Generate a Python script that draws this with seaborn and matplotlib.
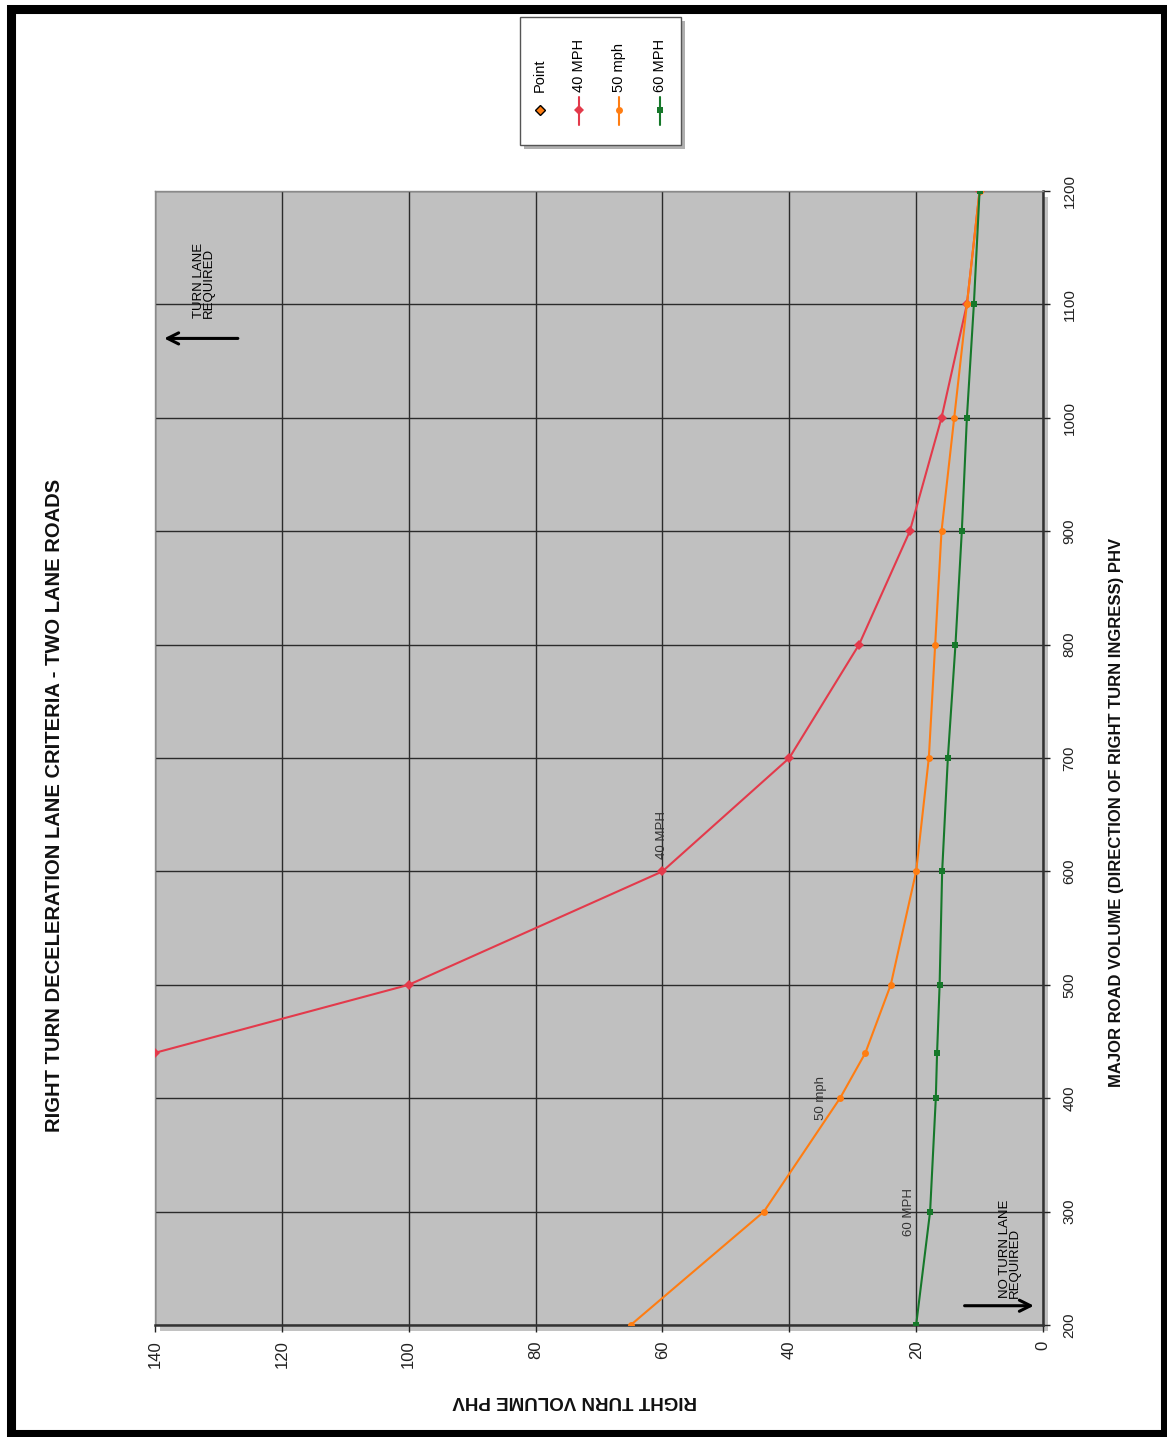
import matplotlib
matplotlib.use('Agg')
import matplotlib.pyplot as plt
import seaborn as sns
import pandas as pd
from matplotlib.patches import Rectangle
from matplotlib.lines import Line2D

major_road = [200, 300, 400, 440, 500, 600, 700, 800, 900, 1000, 1100, 1200]
major_road_40 = [440, 500, 600, 700, 800, 900, 1000, 1100, 1200]
turn_40 = [140, 100, 60, 40, 29, 21, 16, 12, 10]
turn_50 = [65, 44, 32, 28, 24, 20, 18, 17, 16, 14, 12, 10]
turn_60 = [20, 17.8, 16.9, 16.7, 16.3, 15.9, 15, 13.8, 12.8, 12, 10.9, 10]

series_names = ['40 MPH', '50 mph', '60 MPH']
series_colors = ['#e33a4b', '#ff7d12', '#16782a']
series_markers = ['D', 'o', 's']
legend_labels = ['Point', '40 MPH', '50 mph', '60 MPH']

turn_ticks = [0, 20, 40, 60, 80, 100, 120, 140]
major_ticks = [200, 300, 400, 500, 600, 700, 800, 900, 1000, 1100, 1200]

title = 'RIGHT TURN DECELERATION LANE CRITERIA - TWO LANE ROADS'
turn_label = 'RIGHT TURN VOLUME PHV'
major_label = 'MAJOR ROAD VOLUME (DIRECTION OF RIGHT TURN INGRESS) PHV'

sns.set_style('white')
plt.rcParams['font.family'] = ['Liberation Sans', 'DejaVu Sans']

W, H = 1167, 1437
fig = plt.figure(figsize=(W / 100, H / 100), dpi=100)
fig.patch.set_facecolor('white')


def fx(px):
    return px / W


def fy(py):
    return 1 - py / H


# outer black frame with a soft inner shade
fig.add_artist(Rectangle((fx(14), fy(1432)), fx(1149), (1432 - 12) / H,
                         transform=fig.transFigure, fill=False,
                         edgecolor='#c8c8c8', lw=3, zorder=-3))
fig.add_artist(Rectangle((fx(10.5), fy(1434)), fx(1154), (1434 - 8.5) / H,
                         transform=fig.transFigure, fill=False,
                         edgecolor='black', lw=6.5, zorder=5))

# plot area (chart is drawn turned on its side)
left, right, top, bottom = 155, 1043, 191, 1325
fig.add_artist(Rectangle((fx(left + 5), fy(bottom + 6)), fx(right - left), (bottom - top) / H,
                         transform=fig.transFigure, color='#9a9a9a', alpha=0.6, lw=0, zorder=-2))
ax = fig.add_axes([fx(left), fy(bottom), fx(right - left), (bottom - top) / H])
ax.set_facecolor('#c0c0c0')

series_turn = [turn_40, turn_50, turn_60]
series_major = [major_road_40, major_road, major_road]
for name, turn, major, color, marker in zip(series_names, series_turn, series_major,
                                             series_colors, series_markers):
    df = pd.DataFrame({'turn': turn, 'major': major})
    sns.lineplot(data=df, x='turn', y='major', sort=False, estimator=None,
                 color=color, marker=marker, markersize=5, markeredgewidth=0,
                 lw=1.5, ax=ax, zorder=3)

ax.set_xlim(140, 0)
ax.set_ylim(200, 1200)
ax.set_xticks(turn_ticks)
ax.set_yticks(major_ticks)
ax.set_xlabel('')
ax.set_ylabel('')
ax.yaxis.tick_right()
ax.grid(True, color='#2b2b2b', lw=1)
ax.set_axisbelow(True)
ax.tick_params(axis='x', direction='out', length=5, width=1, pad=6,
               labelrotation=90, labelsize=12, bottom=True, colors='#222222')
ax.tick_params(axis='y', direction='out', length=5, width=1, pad=9,
               labelrotation=90, labelsize=11, right=True, left=False, colors='#222222')
for lab in ax.get_yticklabels():
    lab.set_va('center')
    lab.set_ha('left')
for side in ['top', 'left']:
    ax.spines[side].set_color('#8a8a8a')
    ax.spines[side].set_linewidth(1)
for side in ['bottom', 'right']:
    ax.spines[side].set_color('#333333')
    ax.spines[side].set_linewidth(1.8)

# curve labels
ax.text(60, 632, '40 MPH', rotation=90, ha='center', va='center', fontsize=9.5, color='#333333')
ax.text(35, 400, '50 mph', rotation=90, ha='center', va='center', fontsize=9.5, color='#333333')
ax.text(21.2, 300, '60 MPH', rotation=90, ha='center', va='center', fontsize=9.5, color='#333333')

# region notes with arrows
ax.text(132.3, 1121, 'TURN LANE\nREQUIRED', rotation=90, ha='center', va='center',
        multialignment='left', linespacing=0.85, fontsize=9.5, color='black')
ax.annotate('', xy=(139, 1070), xytext=(126.5, 1070),
            arrowprops=dict(arrowstyle='->,head_length=0.8,head_width=0.4', lw=2.2, color='black'))
ax.text(5.2, 267, 'NO TURN LANE\nREQUIRED', rotation=90, ha='center', va='center',
        multialignment='left', linespacing=0.85, fontsize=9.5, color='black')
ax.annotate('', xy=(1.0, 217), xytext=(12.8, 217),
            arrowprops=dict(arrowstyle='->,head_length=0.8,head_width=0.4', lw=2.2, color='black'))

# titles
fig.text(fx(55), fy(805), title, rotation=90, ha='center', va='center',
         fontsize=14.5, fontweight='bold', color='#111111')
fig.text(fx(1117), fy(812), major_label, rotation=90, ha='center', va='center',
         fontsize=12, fontweight='bold', color='#111111')
fig.text(fx(575), fy(1400), turn_label, rotation=180, ha='center', va='center',
         fontsize=13.5, fontweight='bold', color='#111111')

# legend box, drawn by hand because the whole chart is turned
lx0, ly0, lx1, ly1 = 520, 17, 681, 145
fig.add_artist(Rectangle((fx(lx0 + 4), fy(ly1 + 4)), fx(lx1 - lx0), (ly1 - ly0) / H,
                         transform=fig.transFigure, color='#8f8f8f', alpha=0.7, lw=0, zorder=1))
fig.add_artist(Rectangle((fx(lx0), fy(ly1)), fx(lx1 - lx0), (ly1 - ly0) / H,
                         transform=fig.transFigure, facecolor='white',
                         edgecolor='#555555', lw=1, zorder=2))
legend_x = [540, 579, 619, 660]
legend_colors = ['#ff7d12'] + series_colors
legend_markers = ['D'] + series_markers
for i, (lab, xx, col, mk) in enumerate(zip(legend_labels, legend_x, legend_colors, legend_markers)):
    if i > 0:
        fig.add_artist(Line2D([fx(xx), fx(xx)], [fy(97), fy(125)], transform=fig.transFigure,
                              color=col, lw=1.5, zorder=3))
        fig.add_artist(Line2D([fx(xx)], [fy(110)], transform=fig.transFigure, color=col,
                              marker=mk, markersize=5, markeredgewidth=0, zorder=4))
    else:
        fig.add_artist(Line2D([fx(xx)], [fy(110)], transform=fig.transFigure, color=col,
                              marker=mk, markersize=5, markeredgecolor='black',
                              markeredgewidth=1, lw=0, zorder=4))
    fig.text(fx(xx), fy(92), lab, rotation=90, ha='center', va='bottom',
             fontsize=10.5, color='black', zorder=4)

fig.savefig('out.png', dpi=100)
